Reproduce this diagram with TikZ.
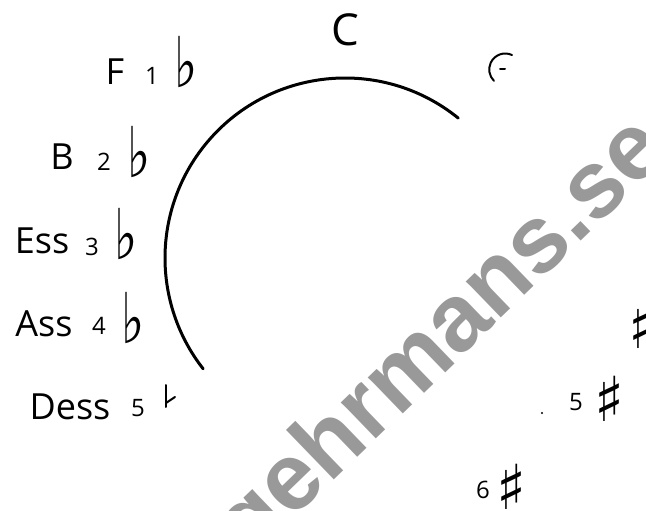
\documentclass[tikz,border=0pt]{standalone}
\usepackage{fontspec}
\setmainfont{Open Sans}
\newfontfamily\symfont{DejaVu Sans}
\newfontfamily\wmfont{Liberation Sans}
\begin{document}
\begin{tikzpicture}[x=1pt,y=-1pt,
  lbl/.style={inner sep=0pt,font=\fontsize{36}{36}\selectfont},
  dig/.style={inner sep=0pt,font=\fontsize{24}{24}\selectfont},
  flat/.style={inner sep=0pt,font=\symfont\fontsize{70}{70}\selectfont},
  sharp/.style={inner sep=0pt,font=\symfont\fontsize{62}{62}\selectfont},
  hand/.style={line width=2pt,line cap=round}]
\useasboundingbox (0,0) rectangle (646,511);
\clip (0,0) rectangle (646,511);
\fill[white] (0,0) rectangle (646,511);
% watermark
\node[inner sep=0pt,text=black!40,rotate=44,font=\wmfont\bfseries\fontsize{95}{95}\selectfont] (wm) at (444,340) {gehrmans.se};
% circle arc
\coordinate (ctr) at (345,258);
\draw[line width=3pt,line cap=round] (ctr) ++(-51:180) arc[start angle=-51,end angle=-218,radius=180];
% top
\node[lbl,font=\fontsize{44}{44}\selectfont] (c) at (345,30) {C};
\draw[hand] (512,55) arc[start angle=-65,end angle=-225,radius=16] coordinate (g);
\draw[hand] (500,69) -- (505,69);
% flats
\node[lbl] (f) at (115,72) {F};
\node[dig] (f1) at (152,76) {1};
\node[flat] (fb) at (186,62) {\scalebox{0.7}[1]{♭}};
\node[lbl] (b) at (62,157) {B};
\node[dig] (b2) at (104,162) {2};
\node[flat] (bb) at (139,152) {\scalebox{0.7}[1]{♭}};
\node[lbl] (es) at (42,241) {Ess};
\node[dig] (es3) at (92,247) {3};
\node[flat] (esb) at (126,234) {\scalebox{0.7}[1]{♭}};
\node[lbl] (as) at (44,324) {Ass};
\node[dig] (as4) at (99,326) {4};
\node[flat] (asb) at (133,318) {\scalebox{0.7}[1]{♭}};
\node[lbl] (des) at (70,407) {Dess};
\node[dig] (des5) at (138,408) {5};
\draw[hand] (166,385) -- (166,407);
\draw[hand] (166,403) -- (175,397);
% sharps
\node[sharp] (fis) at (643,326) {♯};
\node[dig] (h5) at (576,402) {5};
\node[sharp] (h5s) at (609,399) {♯};
\fill (542,413) circle (1.2);
\node[dig] (cis6) at (483,490) {6};
\node[sharp] (cis6s) at (511,487) {♯};
\end{tikzpicture}
\end{document}
